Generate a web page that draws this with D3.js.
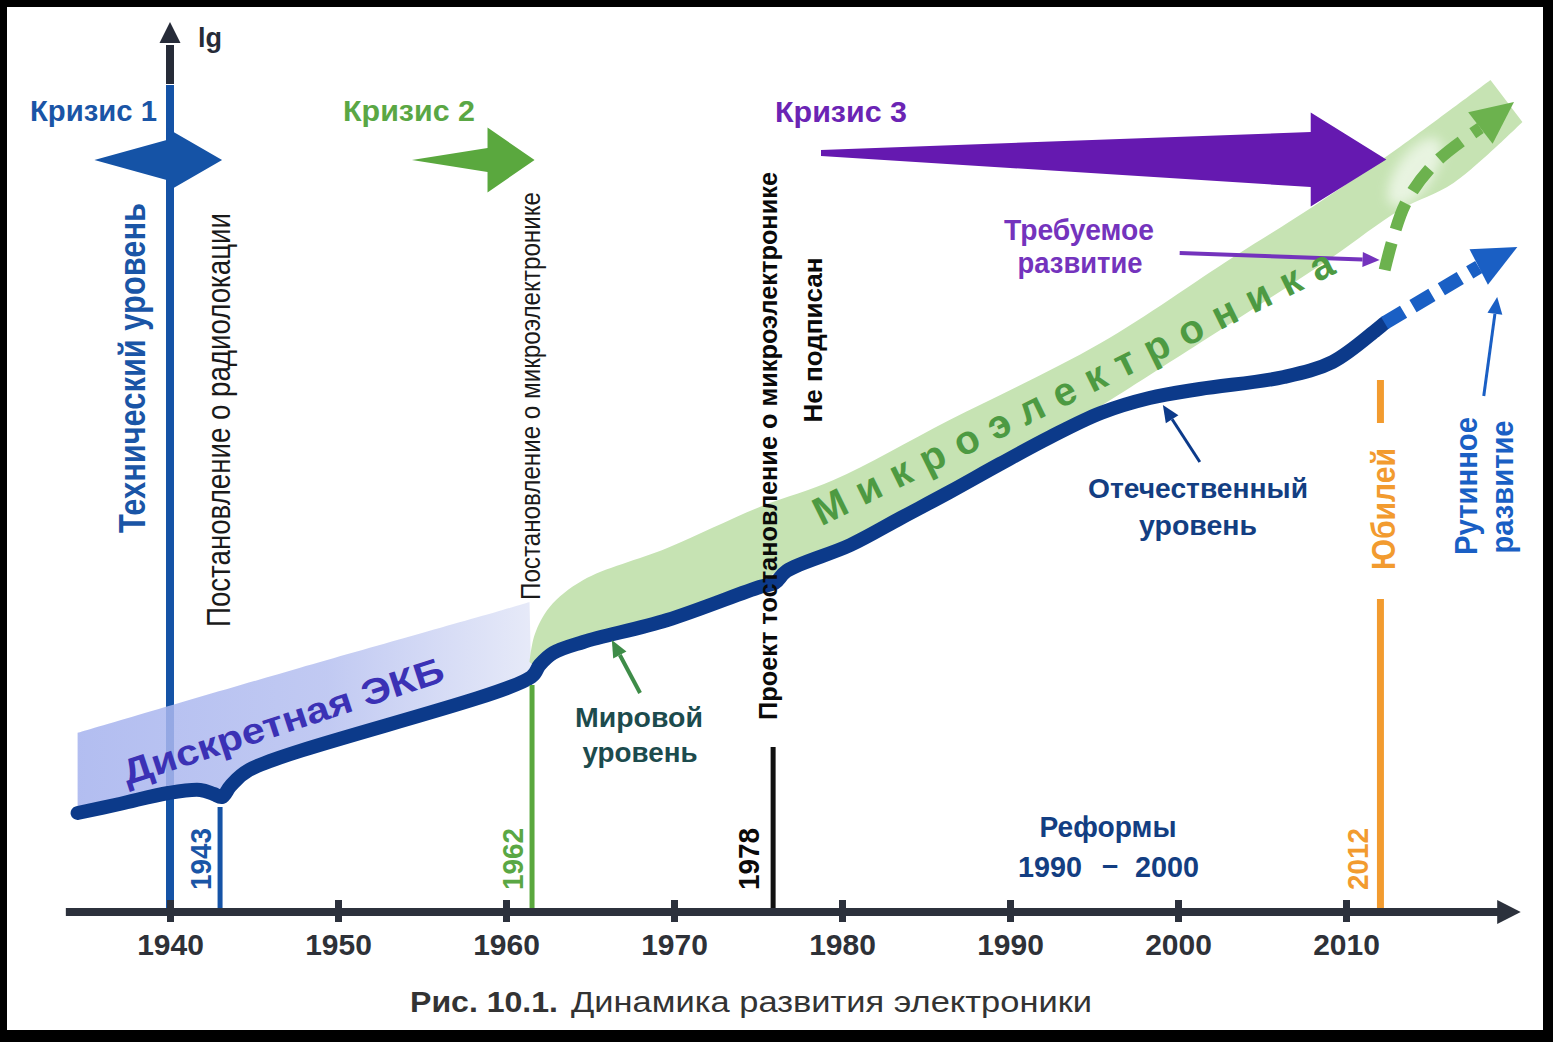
<!DOCTYPE html>
<html><head><meta charset="utf-8">
<script src="https://cdn.jsdelivr.net/npm/d3@7"></script>
<style>
html,body{margin:0;padding:0;background:#000;}
svg{display:block;}
text{font-family:"Liberation Sans",Arial,Helvetica,sans-serif;}
</style></head><body>
<svg id="chart" width="1553" height="1042"></svg>
<script>
// ================= DATA (year, lg-level) =================
const tickYears = [1940,1950,1960,1970,1980,1990,2000,2010];

// Отечественный уровень (solid curve)
const domesticLevel = [[1934.5,9.9],[1937.0,10.8],[1939.9,11.9],[1941.8,12.2],[1942.6,11.8],[1943.1,11.5],[1943.6,12.6],[1944.7,14.2],[1961.5,23.5],[1962.0,24.7],[1962.8,25.9],[1964.6,27.0],[1969.6,29.2],[1975.1,32.5],[1976.0,32.9],[1976.7,34.1],[1980.5,36.7],[1983.5,39.4],[1986.4,42.0],[1989.4,44.8],[1992.4,47.5],[1995.4,49.9],[1998.3,51.4],[2001.3,52.3],[2006.3,53.5],[2009.2,55.0],[2011.8,58.2],[2012.3,58.9]];
// Рутинное развитие (dashed forecast) and its arrow tip
const routineLevel = [[2012.3,58.9],[2017.9,64.5]];
const routineTip = [2020.2,66.5];
// Требуемое развитие (green dashed) and its arrow tip
const requiredLevel = [[2012.3,64.2],[2013.5,70.7],[2015.3,74.9],[2018.0,78.4]];
const requiredTip = [2020.0,81.0];

// Дискретная ЭКБ band – upper edge (lower edge = domestic curve)
const discreteTop = [[1934.5,17.9],[1947.7,24.4],[1959.8,30.2],[1961.4,31.0]];
// Микроэлектроника band edges
const microTop = [[1961.4,25.0],[1961.7,27.7],[1962.6,30.5],[1964.6,33.2],[1969.6,36.4],[1975.1,40.5],[1979.5,43.2],[1986.4,49.2],[1995.4,56.9],[2003.3,65.5],[2008.0,70.5],[2013.2,76.5],[2018.6,83.2]];
const microBottom = [[2020.5,79.0],[2016.4,72.9],[2013.2,70.2],[2009.2,65.5],[2005.3,61.2],[2001.3,56.9],[1995.4,50.6],[1992.4,47.6],[1988.4,44.0],[1981.5,37.6],[1976.7,34.6],[1975.1,33.0],[1969.6,29.7],[1964.6,27.5],[1962.6,26.2],[1961.6,24.7]];

// Events (vertical lines)
const eventYears = [1942.98,1961.55,1975.9,2012.05];
const eventLabels = ["1943","1962","1978","2012"];
const eventTopLevel = [10.5,22.7,16.5,31.3];
const jubileeMark = [48.9,53.2];

// Crises (horizontal arrows)
const crisisNames = ["Кризис 1","Кризис 2","Кризис 3"];
const crisisTailYear = [1935.5,1954.4,1978.75];
const crisisHeadYear = [1939.8,1958.9,2007.9];
const crisisTipYear = [1943.1,1961.7,2012.4];
const crisisTailLevel = [75.2,75.2,75.9];
const crisisHeadLevel = [75.2,75.2,75.25];

// Callout arrows
const calloutNames = ["Мировой уровень","Отечественный уровень","Требуемое развитие","Рутинное развитие"];
const calloutFrom = [[1967.98,21.9],[2001.3,45.0],[2000.1,65.9],[2018.2,51.6]];
const calloutTo = [[1966.3,27.2],[1999.1,50.7],[2012.0,65.2],[2019.0,61.5]];

// ================= STYLE =================
const C = {
  blue:"#1553a6", navy:"#0c3a8a", navyText:"#133e82", routine:"#1a5fc4",
  green:"#5aa83e", greenDash:"#6cb24e", band:"#c6e3b3", micro:"#4d9a42",
  purple:"#6519b0", purple2:"#7433bd", orange:"#f29b2f", teal:"#1c4b4d",
  axis:"#2c313c", black:"#111111", worldArrow:"#3e8c48"
};
const eventColors = [C.blue, C.green, C.black, C.orange];
const eventWidths = [5,5,5,7];
const crisisColors = [C.blue, C.green, C.purple];
const crisisTailHalf = [0,0,3], crisisShaftHalf = [20,12,27.5], crisisHeadHalf = [32,32.5,47];
const calloutColors = [C.worldArrow, C.navy, C.purple2, C.routine];
const calloutWidths = [4,3,4,3];

// ================= SCALES =================
const x = d3.scaleLinear().domain([1940,2010]).range([170,1346]);
const y = d3.scaleLinear().domain([0,89]).range([912,22]);
const P = d => [x(d[0]), y(d[1])];

const svg = d3.select("#chart");
svg.append("rect").attr("width",1553).attr("height",1042).attr("fill","#000");
svg.append("rect").attr("x",7).attr("y",7).attr("width",1536).attr("height",1023).attr("fill","#fff");

const defs = svg.append("defs");
const gb = defs.append("linearGradient").attr("id","gBlue").attr("x1",0).attr("x2",1).attr("y1",0).attr("y2",0);
gb.append("stop").attr("offset",0).attr("stop-color","#a5b2ee");
gb.append("stop").attr("offset",0.55).attr("stop-color","#b6c0f0");
gb.append("stop").attr("offset",1).attr("stop-color","#e2e6f7");
defs.append("filter").attr("id","blur").attr("x","-50%").attr("y","-50%").attr("width","200%").attr("height","200%")
  .append("feGaussianBlur").attr("stdDeviation",6);

const lineC = d3.line().x(d=>x(d[0])).y(d=>y(d[1])).curve(d3.curveCatmullRom.alpha(0.5));
const lineL = d3.line().x(d=>x(d[0])).y(d=>y(d[1]));
const bandPath = (top,bottom) => lineC(top) + lineC(bottom).replace(/^M/,"L") + "Z";
const poly = pts => "M" + pts.map(p=>p.join(",")).join("L") + "Z";
function head(base, tip, half){
  const dx=tip[0]-base[0], dy=tip[1]-base[1], L=Math.hypot(dx,dy), nx=-dy/L, ny=dx/L;
  return [tip,[base[0]+nx*half,base[1]+ny*half],[base[0]-nx*half,base[1]-ny*half]];
}

// ---- Y axis (технический уровень) ----
const X0 = x(1940);
svg.append("line").attr("x1",X0).attr("x2",X0).attr("y1",y(0)).attr("y2",y(82.7)).attr("stroke",C.blue).attr("stroke-width",8);
svg.append("line").attr("x1",X0).attr("x2",X0).attr("y1",y(82.8)).attr("y2",y(86.7)).attr("stroke","#262b38").attr("stroke-width",8);
svg.append("path").attr("d",poly([[X0-10.5,y(86.9)],[X0+10.5,y(86.9)],[X0,y(89)]])).attr("fill","#262b38");

// ---- Bands ----
const discreteBottom = domesticLevel.filter(d=>d[0]<=1961.6).slice().reverse();
svg.append("path").attr("d",bandPath(discreteTop,discreteBottom)).attr("fill","url(#gBlue)").attr("fill-opacity",0.85);
svg.append("path").attr("d",bandPath(microTop,microBottom)).attr("fill",C.band);
// light reflex on band
const hl = P([2014.1,74.0]);
svg.append("ellipse").attr("cx",hl[0]).attr("cy",hl[1]).attr("rx",18).attr("ry",40)
  .attr("transform",`rotate(35,${hl[0]},${hl[1]})`).attr("fill","#fff").attr("opacity",0.6).attr("filter","url(#blur)");

// ---- Curves ----
svg.append("path").attr("d",lineC(domesticLevel)).attr("fill","none").attr("stroke",C.navy)
  .attr("stroke-width",14).attr("stroke-linecap","round");
svg.append("path").attr("d",lineL(routineLevel)).attr("fill","none").attr("stroke",C.routine)
  .attr("stroke-width",14).attr("stroke-dasharray","22,11");
svg.append("path").attr("d",poly(head(P(routineLevel[routineLevel.length-1]),P(routineTip),20))).attr("fill",C.routine);
svg.append("path").attr("d",lineC(requiredLevel)).attr("fill","none").attr("stroke",C.greenDash)
  .attr("stroke-width",12).attr("stroke-dasharray","28,14");
svg.append("path").attr("d",poly(head(P(requiredLevel[requiredLevel.length-1]),P(requiredTip),20))).attr("fill",C.greenDash);

// ---- Event lines ----
eventYears.forEach((yr,i)=>{
  svg.append("line").attr("x1",x(yr)).attr("x2",x(yr)).attr("y1",y(eventTopLevel[i])).attr("y2",y(0))
    .attr("stroke",eventColors[i]).attr("stroke-width",eventWidths[i]);
});
svg.append("line").attr("x1",x(eventYears[3])).attr("x2",x(eventYears[3])).attr("y1",y(jubileeMark[1])).attr("y2",y(jubileeMark[0]))
  .attr("stroke",C.orange).attr("stroke-width",7);

// ---- X axis ----
svg.append("line").attr("x1",x(1933.8)).attr("x2",x(2019.2)).attr("y1",y(0)).attr("y2",y(0)).attr("stroke",C.axis).attr("stroke-width",8);
svg.append("path").attr("d",poly([[x(2019.0),y(0)-12],[x(2020.4),y(0)],[x(2019.0),y(0)+12]])).attr("fill",C.axis);
const axG = svg.append("g").attr("transform",`translate(0,${y(0)})`)
  .call(d3.axisBottom(x).tickValues(tickYears).tickFormat(d3.format("d")).tickSize(0).tickPadding(0));
axG.select(".domain").remove();
axG.attr("font-family",'"Liberation Sans",Arial,sans-serif').attr("font-size",30);
axG.selectAll(".tick line").attr("y1",-12).attr("y2",10).attr("stroke",C.axis).attr("stroke-width",7);
axG.selectAll(".tick text").attr("y",43).attr("dy",null).attr("font-weight","bold").attr("fill","#2e3138");

// ---- Crisis arrows ----
crisisNames.forEach((n,i)=>{
  const xt=x(crisisTailYear[i]), xb=x(crisisHeadYear[i]), xp=x(crisisTipYear[i]);
  const yt=y(crisisTailLevel[i]), yh=y(crisisHeadLevel[i]);
  const pts=[[xt,yt-crisisTailHalf[i]],[xb,yh-crisisShaftHalf[i]],[xb,yh-crisisHeadHalf[i]],[xp,yh],
             [xb,yh+crisisHeadHalf[i]],[xb,yh+crisisShaftHalf[i]],[xt,yt+crisisTailHalf[i]]];
  svg.append("path").attr("d",poly(pts)).attr("fill",crisisColors[i]);
});

// ---- Callout arrows ----
calloutNames.forEach((n,i)=>{
  const a=P(calloutFrom[i]), b=P(calloutTo[i]);
  const dx=b[0]-a[0], dy=b[1]-a[1], L=Math.hypot(dx,dy), hl=17;
  const base=[b[0]-dx/L*hl, b[1]-dy/L*hl];
  svg.append("line").attr("x1",a[0]).attr("y1",a[1]).attr("x2",base[0]).attr("y2",base[1])
    .attr("stroke",calloutColors[i]).attr("stroke-width",calloutWidths[i]);
  svg.append("path").attr("d",poly(head(base,b,7.5))).attr("fill",calloutColors[i]);
});

// ---- Texts ----
function htext(t, px, py, o){
  const e = svg.append("text").attr("x",px).attr("y",py).attr("font-size",o.s||29)
    .attr("font-weight",o.w||"bold").attr("fill",o.c||C.black).attr("text-anchor",o.a||"middle").text(t);
  if(o.len) e.attr("textLength",o.len).attr("lengthAdjust","spacingAndGlyphs");
  return e;
}
function vtext(t, cx, cy, o){
  const e = svg.append("text").attr("transform",`translate(${cx},${cy}) rotate(-90)`)
    .attr("text-anchor","middle").attr("dominant-baseline","central")
    .attr("font-size",o.s).attr("font-weight",o.w||"bold").attr("fill",o.c||C.black).text(t);
  if(o.len) e.attr("textLength",o.len).attr("lengthAdjust","spacingAndGlyphs");
}

htext("lg",198,47,{s:27,c:"#262b38",a:"start"});
htext(crisisNames[0],30,121,{c:"#1a55a6",a:"start",len:127});
htext(crisisNames[1],343,121,{c:"#5aa744",a:"start",len:132});
htext(crisisNames[2],775,122,{c:"#6b24b4",a:"start",len:132});
htext("Требуемое",1079,240,{c:C.purple2,len:150});
htext("развитие",1080,273,{c:C.purple2,len:125});
htext("Отечественный",1198,498,{s:28,c:C.navyText,len:220});
htext("уровень",1198,535,{s:28,c:C.navyText,len:118});
htext("Мировой",639,727,{s:28,c:C.teal,len:128});
htext("уровень",640,762,{s:28,c:C.teal,len:115});
htext("Реформы",1108,837,{c:C.navyText,len:137});
htext("1990",1050,877,{c:C.navyText,len:64});
htext("–",1110,875,{c:C.navyText});
htext("2000",1167,877,{c:C.navyText,len:64});
htext("Рис. 10.1.",410,1012,{s:29,c:"#333",a:"start",len:148});
htext("Динамика развития электроники",571,1012,{s:29,w:"normal",c:"#333",a:"start",len:521});

vtext("Технический уровень",132,368,{s:36,c:"#1a55a6",len:330});
vtext("Постановление о радиолокации",218,420,{s:33,w:"normal",c:"#1a1a1a",len:414});
vtext("Постановление о микроэлектронике",530,396,{s:28,w:"normal",c:"#1a1a1a",len:408});
vtext("Проект тостановление о микроэлектронике",768,446,{s:25,c:"#0a0a0a",len:548});
vtext("Не подписан",813,340,{s:26,c:"#0a0a0a",len:165});
vtext("Юбилей",1383,509,{s:34,c:C.orange,len:122});
vtext("Рутинное",1466,486,{s:31,c:C.routine,len:138});
vtext("развитие",1502,487,{s:31,c:C.routine,len:133});
const evCx = [201,513,749,1358];
const evTxtColors = ["#1a55a6","#5aa744","#0a0a0a",C.orange];
eventLabels.forEach((t,i)=>vtext(t,evCx[i],859,{s:29,c:evTxtColors[i],len:62}));

// band captions
svg.append("text").attr("transform","translate(283,721) rotate(-18.2)")
  .attr("text-anchor","middle").attr("dominant-baseline","central")
  .attr("font-size",36).attr("font-weight","bold").attr("fill","#3b31b5")
  .attr("textLength",336).attr("lengthAdjust","spacingAndGlyphs").text("Дискретная ЭКБ");
svg.append("text").attr("transform","translate(1073,387) rotate(-26.2)")
  .attr("text-anchor","middle").attr("dominant-baseline","central")
  .attr("font-size",40).attr("font-weight","bold").attr("fill",C.micro)
  .attr("textLength",575).attr("lengthAdjust","spacing").text("Микроэлектроника");
</script>
</body></html>
